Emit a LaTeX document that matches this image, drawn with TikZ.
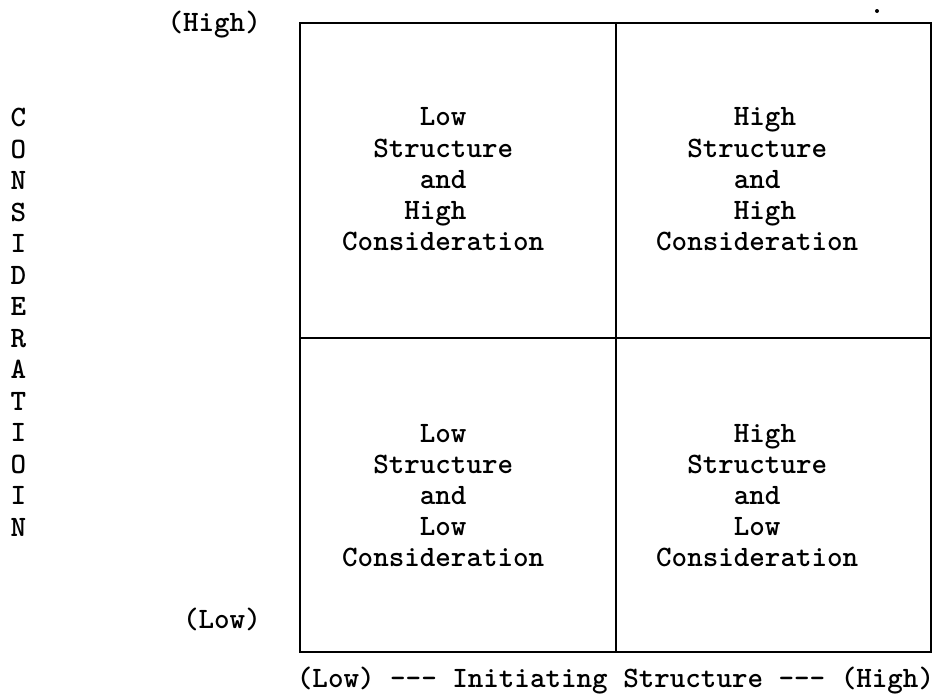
\documentclass[tikz,border=0pt]{standalone}
\usepackage{fontspec}
\begin{document}
\begin{tikzpicture}[x=1pt,y=-1pt,
  gridline/.style={line width=2pt, draw=black},
  tw/.style={font=\ttfamily\bfseries\fontsize{29.6}{31.2}\selectfont, inner sep=0pt, text=black},
  quad/.style={tw, anchor=base west},
  axislabel/.style={tw},
  vletters/.style={font=\ttfamily\bfseries\fontsize{29.6}{31.5}\selectfont, inner sep=0pt, anchor=base}]
\useasboundingbox (0,0) rectangle (938,696);
% grid
\coordinate (tl) at (300,23);
\coordinate (br) at (931,652);
\coordinate (mt) at (616,23);
\coordinate (mb) at (616,652);
\coordinate (ml) at (300,337.5);
\coordinate (mr) at (931,337.5);
\draw[gridline] (tl) rectangle (br);
\draw[gridline] (mt) -- (mb);
\draw[gridline] (ml) -- (mr);
% stray dot
\fill (877,11) circle (2pt);
% quadrant texts
\node[quad] (q11) at (342,125.8) {\begin{tabular}[t]{@{}l@{}}\phantom{xxxxx}Low\\\phantom{xx}Structure\\\phantom{xxxxx}and\\\phantom{xxxx}High\\Consideration\end{tabular}};
\node[quad] (q12) at (656,125.8) {\begin{tabular}[t]{@{}l@{}}\phantom{xxxxx}High\\\phantom{xx}Structure\\\phantom{xxxxx}and\\\phantom{xxxxx}High\\Consideration\end{tabular}};
\node[quad] (q21) at (342,442) {\begin{tabular}[t]{@{}l@{}}\phantom{xxxxx}Low\\\phantom{xx}Structure\\\phantom{xxxxx}and\\\phantom{xxxxx}Low\\Consideration\end{tabular}};
\node[quad] (q22) at (656,442) {\begin{tabular}[t]{@{}l@{}}\phantom{xxxxx}High\\\phantom{xx}Structure\\\phantom{xxxxx}and\\\phantom{xxxxx}Low\\Consideration\end{tabular}};
% axis labels
\node[axislabel, anchor=base east] (yhigh) at (261,31) {(High)};
\node[axislabel, anchor=base east] (ylow) at (261,628.3) {(Low)};
\node[axislabel, anchor=base] (xaxis) at (615.5,687) {(Low) -{}-{}- Initiating Structure -{}-{}- (High)};
\node[vletters] (cons) at (18.3,126.8) {\begin{tabular}[t]{@{}c@{}}C\\O\\N\\S\\I\\D\\E\\R\\A\\T\\I\\O\\I\\N\end{tabular}};
\end{tikzpicture}
\end{document}
